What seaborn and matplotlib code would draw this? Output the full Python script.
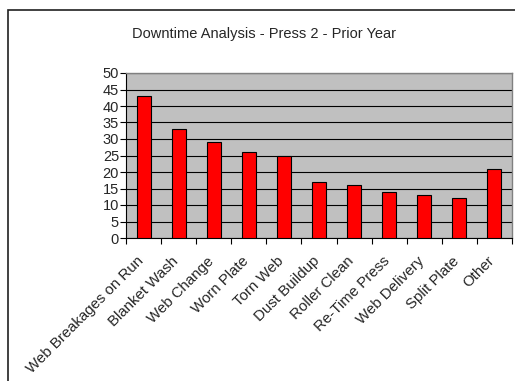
import matplotlib
matplotlib.use("Agg")
import matplotlib.pyplot as plt
import matplotlib.transforms as mtransforms
import seaborn as sns
import pandas as pd
import numpy as np
from matplotlib.ticker import FixedLocator

categories = ["Web Breakages on Run", "Blanket Wash", "Web Change", "Worn Plate",
              "Torn Web", "Dust Buildup", "Roller Clean", "Re-Time Press",
              "Web Delivery", "Split Plate", "Other"]
downtime = [43, 33, 29, 26, 25, 17, 16, 14, 13, 12, 21]
y_ticks = [0, 5, 10, 15, 20, 25, 30, 35, 40, 45, 50]

sns.set_style("white")
plt.rcParams["font.family"] = ["Liberation Sans", "DejaVu Sans"]

df = pd.DataFrame({"category": categories, "downtime": downtime})

W, H = 515, 381
fig = plt.figure(figsize=(W / 100, H / 100), dpi=100)
fig.patch.set_facecolor("white")

# outer chart frame
frame = plt.Rectangle((7.5 / W, -0.1), 1.2, (H - 10.5) / H + 0.1, transform=fig.transFigure,
                      fill=False, edgecolor="#202020", linewidth=1.2)
fig.add_artist(frame)

ax = fig.add_axes([126 / W, 1 - 238 / H, (512 - 126) / W, (238 - 73) / H])
ax.set_facecolor("#C0C0C0")

sns.barplot(data=df, x="category", y="downtime", ax=ax, color="#FF0000",
            saturation=1, width=0.4, edgecolor="black", linewidth=0.8, zorder=3)

ax.set_ylim(0, 50)
ax.set_xlim(-0.5, len(categories) - 0.5)
ax.set_yticks(y_ticks)
ax.yaxis.grid(True, color="black", linewidth=0.8, zorder=1)
ax.set_axisbelow(True)
ax.set_xlabel("")
ax.set_ylabel("")

for side in ["top", "right"]:
    ax.spines[side].set_color("#808080")
    ax.spines[side].set_linewidth(1.0)
for side in ["left", "bottom"]:
    ax.spines[side].set_color("black")
    ax.spines[side].set_linewidth(0.8)

ax.tick_params(axis="y", which="major", direction="out", length=4, width=0.8,
               color="black", labelsize=10.5, pad=1, left=True)
ax.xaxis.set_minor_locator(FixedLocator(np.arange(-0.5, len(categories), 1.0)))
ax.tick_params(axis="x", which="minor", direction="out", length=4, width=0.8,
               color="black", bottom=True)
ax.tick_params(axis="x", which="major", length=0, pad=5, labelsize=10.8)
ax.set_xticks(range(len(categories)))
ax.set_xticklabels(categories, rotation=45, ha="right", rotation_mode="anchor")

# shift the slanted category labels slightly down and to the left
shift = mtransforms.ScaledTranslation(-7 / 100, -9 / 100, fig.dpi_scale_trans)
for lbl in ax.get_xticklabels():
    lbl.set_transform(lbl.get_transform() + shift)

fig.text(264 / W, 1 - 34 / H, "Downtime Analysis - Press 2 - Prior Year",
         ha="center", va="center", fontsize=10.5)

fig.savefig("out.png", dpi=100)
